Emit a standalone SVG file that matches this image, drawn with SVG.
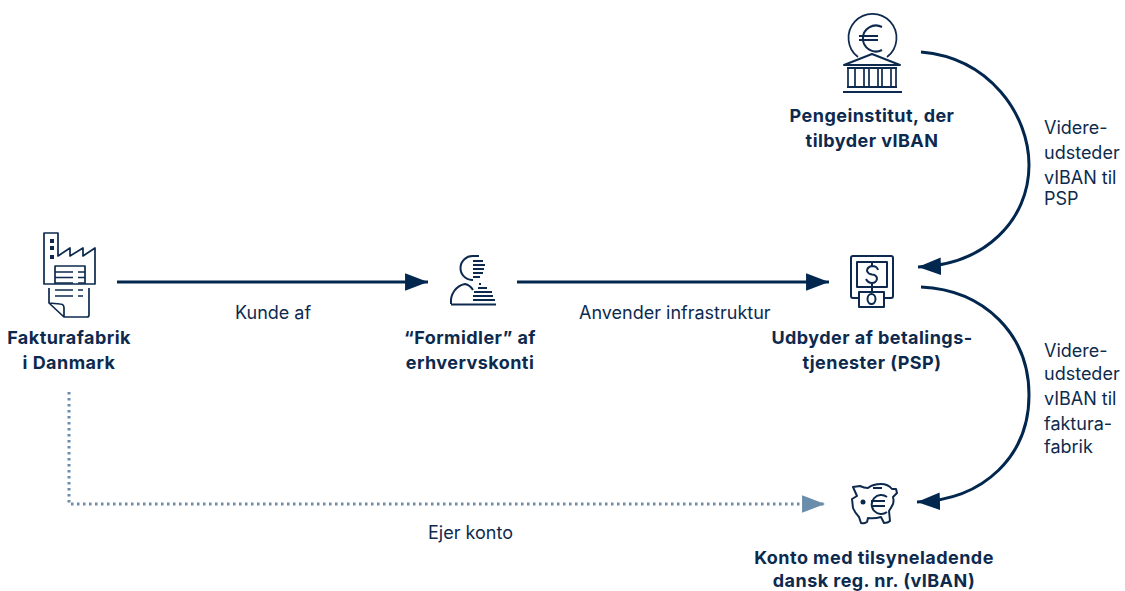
<svg xmlns="http://www.w3.org/2000/svg" width="1125" height="591" viewBox="0 0 1125 591">
<style>
text{font-family:"Inter","Liberation Sans",sans-serif;font-size:18px;fill:#0d2a4e}
.b{font-weight:700;text-anchor:middle;font-size:18px;letter-spacing:.45px}
.i{fill:none;stroke:#0d2a4e;stroke-width:1.7;stroke-linejoin:round}
.t{stroke-width:2}
.c{fill:none;stroke:#02274f;stroke-width:3}
</style>
<defs>
<marker id="a" markerUnits="userSpaceOnUse" markerWidth="24" markerHeight="20" refX="21" refY="8" orient="auto" viewBox="0 0 22 16"><path d="M0 0L21 8L0 16Z" fill="#02274f"/></marker>
<marker id="g" markerUnits="userSpaceOnUse" markerWidth="24" markerHeight="20" refX="21" refY="8" orient="auto" viewBox="0 0 22 16"><path d="M0 0L21 8L0 16Z" fill="#6a8dac"/></marker>
</defs>
<g id="connectors">
<path class="c" marker-end="url(#a)" d="M117 282H428"/>
<path class="c" marker-end="url(#a)" d="M517 282H829"/>
<path class="c" marker-end="url(#a)" d="M921 52C990 58 1029 115 1029 165C1029 220 985 265 918 267"/>
<path class="c" marker-end="url(#a)" d="M921 287C985 290 1029 335 1029 395C1029 455 985 500 917 502"/>
<path d="M69 392V504H825" fill="none" stroke="#6a8dac" stroke-width="3" stroke-dasharray="2.5 3.500" marker-end="url(#g)"/>
</g>
<g id="factory">
<path class="i" d="M44 284V233H58V256L70 248V256L83 248V256L95 248V284Z"/>
<path class="i" d="M55 284V266H85V284M55 272H73M55 277.500H73M55 283H73M78 272H85M78 277.500H85M78 283H85"/>
<path class="i" d="M49 288V303L64 317H87Q89 317 89 315V288M49 303L60 304Q64 304 64 308V317M55 290H73M55 296H73M78 290H83M78 296H83"/>
<path d="M50 239h4v4h-4zM50 246h4v4h-4zM50 255h4v4h-4z" fill="#0d2a4e"/>
<text class="b" x="69" y="344">Fakturafabrik</text><text class="b" x="69" y="369">i Danmark</text>
</g>
<g id="formidler">
<path class="i t" d="M479 256H473A12 12 0 0 0 472 280H473M473 261H483M473 265H485M473 269H484M473 273H483M473 277H480"/>
<path class="i t" d="M451 304A17 18 0 0 1 465 284Q470 285 473 290M451 304.500H496M473 300H495M473 296H493M474 292H492M478 288H487"/>
<rect x="479" y="283" width="2" height="2" fill="#0d2a4e"/>
<text class="b" x="470" y="344">“Formidler” af</text><text class="b" x="470" y="369">erhvervskonti</text>
</g>
<g id="bank">
<path class="i" d="M858 57A24 24 0 1 1 887 57"/>
<path class="i t" d="M882 27A13 13 0 1 0 882 50M859 36H878M859 40H878"/>
<path class="i t" d="M844 65L872 54L900 65ZM847 68H897M847 87H897M843 92H902"/>
<path class="i" d="M848 68V87M855 68V87M864 68V87M869 68V87M878 68V87M882 68V87M891 68V87M896 68V87"/>
<text class="b" x="872" y="122">Pengeinstitut, der</text><text class="b" x="872" y="147">tilbyder vIBAN</text>
</g>
<g id="psp">
<path class="i t" d="M858 298H853Q851 298 851 296V258Q851 256 853 256H891Q893 256 893 258V296Q893 298 891 298H883"/>
<rect class="i t" x="857" y="262" width="30" height="25"/>
<path class="i t" d="M878 270Q877 266 872 266Q867 267 867 271Q868 274 872 274.500Q877 275 877 279Q876 283 872 283Q868 283 866 279M872 263V266M872 283V292"/>
<rect class="i t" x="859" y="292" width="25" height="15"/>
<ellipse class="i t" cx="871.500" cy="299" rx="4" ry="5"/>
<text class="b" x="872" y="344">Udbyder af betalings-</text><text class="b" x="872" y="369">tjenester (PSP)</text>
</g>
<g id="konto">
<path class="i t" d="M853 487L860 486Q864 488 868 488Q873 484 881 484Q888 484 892 489L896 489L897 493L893 497Q894 501 893 504Q891 508 889 511L890 521Q888 523 884 523L881 517Q874 519 868 518L867 522Q864 524 861 523L859 517Q855 513 853 508L852 499L857 496Z"/>
<path class="i t" d="M873 488H882M887 497A9.500 9.500 0 1 0 887 512M871 501H885M871 506H885"/>
<circle cx="863" cy="502" r="2.500" fill="#0d2a4e"/>
<text class="b" x="874" y="564">Konto med tilsyneladende</text><text class="b" x="874" y="587">dansk reg. nr. (vIBAN)</text>
</g>
<g id="labels">
<text x="235" y="319">Kunde af</text>
<text x="579" y="319">Anvender infrastruktur</text>
<text x="428" y="539">Ejer konto</text>
<text x="1044" y="134">Videre-</text><text x="1044" y="159">udsteder</text><text x="1044" y="184">vIBAN til</text><text x="1044" y="205">PSP</text>
<text x="1044" y="357">Videre-</text><text x="1044" y="380">udsteder</text><text x="1044" y="405">vIBAN til</text><text x="1044" y="430">faktura-</text><text x="1044" y="453">fabrik</text>
</g>
</svg>
